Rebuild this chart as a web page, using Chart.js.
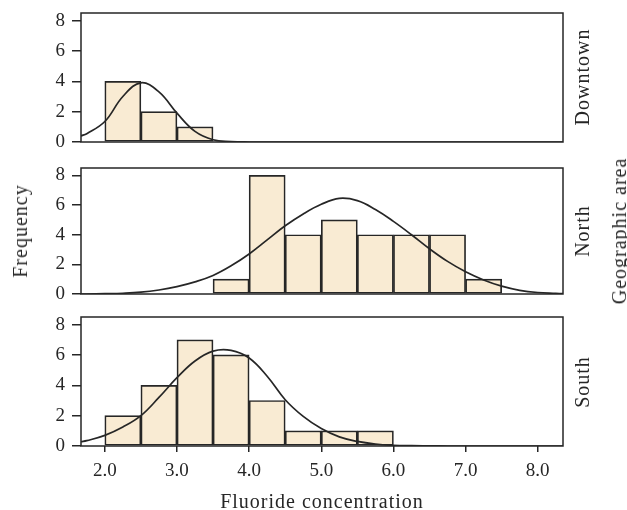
<!DOCTYPE html>
<html>
<head>
<meta charset="utf-8">
<script src="https://cdn.jsdelivr.net/npm/chart.js@4.4.1/dist/chart.umd.min.js"></script>
<style>
  body { margin: 0; background: #fff; }
  #wrap { position: relative; width: 627px; height: 510px; overflow: hidden; }
  canvas { position: absolute; left: 0; }
  .lbl { position: absolute; font-family: "Liberation Serif", "DejaVu Serif", serif; font-size: 20px;
         letter-spacing: 1px; color: #262626; white-space: nowrap; line-height: 20px;
         transform: translate(-50%, -50%); }
  .rot { transform: translate(-50%, -50%) rotate(-90deg); }
</style>
</head>
<body>
<div id="wrap">
  <canvas id="c1" width="627" height="155" style="top:0px"></canvas>
  <canvas id="c2" width="627" height="150" style="top:155px"></canvas>
  <canvas id="c3" width="627" height="205" style="top:305px"></canvas>
  <div class="lbl rot" style="left:20px; top:231px">Frequency</div>
  <div class="lbl rot" style="left:582px; top:77px">Downtown</div>
  <div class="lbl rot" style="left:582px; top:231px">North</div>
  <div class="lbl rot" style="left:582px; top:382px">South</div>
  <div class="lbl rot" style="left:619px; top:231px">Geographic area</div>
  <div class="lbl" style="left:322px; top:501px">Fluoride concentration</div>
</div>
<script>
const binWidth = 0.5;
const xTicks = [2, 3, 4, 5, 6, 7, 8];
const yTicks = [0, 2, 4, 6, 8];

// histogram bins (lower edges) and counts
const downtownBins = [2.0, 2.5, 3.0];
const downtownCounts = [4, 2, 1];
const northBins = [3.5, 4.0, 4.5, 5.0, 5.5, 6.0, 6.5, 7.0];
const northCounts = [1, 8, 4, 5, 4, 4, 4, 1];
const southBins = [2.0, 2.5, 3.0, 3.5, 4.0, 4.5, 5.0, 5.5];
const southCounts = [2, 4, 7, 6, 3, 1, 1, 1];

// fitted curves
const curveX = [1.67, 1.75, 2.0, 2.25, 2.5, 2.75, 3.0, 3.25, 3.5, 3.75, 4.0, 4.25, 4.5, 4.75, 5.0,
                5.25, 5.5, 5.75, 6.0, 6.25, 6.5, 6.75, 7.0, 7.25, 7.5, 7.75, 8.0, 8.25, 8.35];
const downtownCurve = [0.4, 0.55, 1.35, 3.0, 3.9, 3.3, 1.9, 0.7, 0.15, 0.03, 0, 0, 0, 0, 0,
                       0, 0, 0, 0, 0, 0, 0, 0, 0, 0, 0, 0, 0, 0];
const northCurve = [0, 0, 0.02, 0.05, 0.12, 0.27, 0.5, 0.82, 1.25, 1.9, 2.7, 3.65, 4.6, 5.4, 6.05,
                    6.45, 6.3, 5.7, 4.9, 4.0, 3.05, 2.2, 1.5, 0.95, 0.53, 0.25, 0.1, 0.04, 0.02];
const southCurve = [0.28, 0.35, 0.7, 1.25, 2.0, 3.2, 4.5, 5.6, 6.25, 6.3, 5.8, 4.6, 3.05, 1.95, 1.15,
                    0.6, 0.3, 0.13, 0.05, 0.02, 0.01, 0, 0, 0, 0, 0, 0, 0, 0];

const fontFamily = '"Liberation Serif", "DejaVu Serif", serif';
const ink = '#262626';

const framePlugin = {
    id: 'frame',
    afterDatasetsDraw(chart) {
        const { ctx, chartArea: a } = chart;
        ctx.save();
        ctx.strokeStyle = ink;
        ctx.lineWidth = 1.5;
        ctx.strokeRect(a.left, a.top, a.right - a.left, a.bottom - a.top);
        ctx.restore();
    }
};

function makePanel(id, bins, counts, curve, padTop, padBottom, showX) {
    const bars = bins.map((b, i) => ({ x: b + binWidth / 2, y: counts[i] }));
    const line = curveX.map((x, i) => ({ x, y: curve[i] }));
    return new Chart(document.getElementById(id), {
        type: 'bar',
        data: {
            datasets: [
                {
                    type: 'line', data: line, order: 0,
                    borderColor: ink, borderWidth: 1.7, pointRadius: 0,
                    tension: 0.4, fill: false
                },
                {
                    type: 'bar', data: bars, order: 1,
                    backgroundColor: '#f9ebd3', borderColor: ink, borderWidth: 1.7,
                    borderSkipped: false, barPercentage: 1, categoryPercentage: 1
                }
            ]
        },
        options: {
            responsive: false,
            devicePixelRatio: 1,
            animation: false,
            layout: { padding: { top: padTop, bottom: padBottom, left: 0, right: 64 } },
            plugins: { legend: { display: false }, tooltip: { enabled: false } },
            scales: {
                x: {
                    type: 'linear', min: 1.67, max: 8.35,
                    offset: false,
                    display: showX,
                    afterBuildTicks: s => { s.ticks = xTicks.map(v => ({ value: v })); },
                    afterFit: s => {
                        if (showX) s.height = 64;
                        s.paddingLeft = 0; s.paddingRight = 0;
                    },
                    border: { display: false },
                    grid: { offset: false, drawOnChartArea: false, drawTicks: true, tickLength: 6, color: ink, lineWidth: 1.5 },
                    ticks: {
                        padding: 8, color: ink, font: { family: fontFamily, size: 19 },
                        maxRotation: 0, autoSkip: false, callback: v => v.toFixed(1)
                    }
                },
                y: {
                    min: 0, max: 8.5,
                    afterBuildTicks: s => { s.ticks = yTicks.map(v => ({ value: v })); },
                    afterFit: s => { s.width = 81; s.paddingTop = 0; s.paddingBottom = 0; },
                    border: { display: false },
                    grid: { drawOnChartArea: false, drawTicks: true, tickLength: 9, color: ink, lineWidth: 1.5 },
                    ticks: { padding: 7, autoSkip: false, color: ink, font: { family: fontFamily, size: 19 } }
                }
            }
        },
        plugins: [framePlugin]
    });
}

makePanel('c1', downtownBins, downtownCounts, downtownCurve, 13, 13, false);
makePanel('c2', northBins, northCounts, northCurve, 13, 11, false);
makePanel('c3', southBins, southCounts, southCurve, 12, 0, true);
</script>
</body>
</html>
